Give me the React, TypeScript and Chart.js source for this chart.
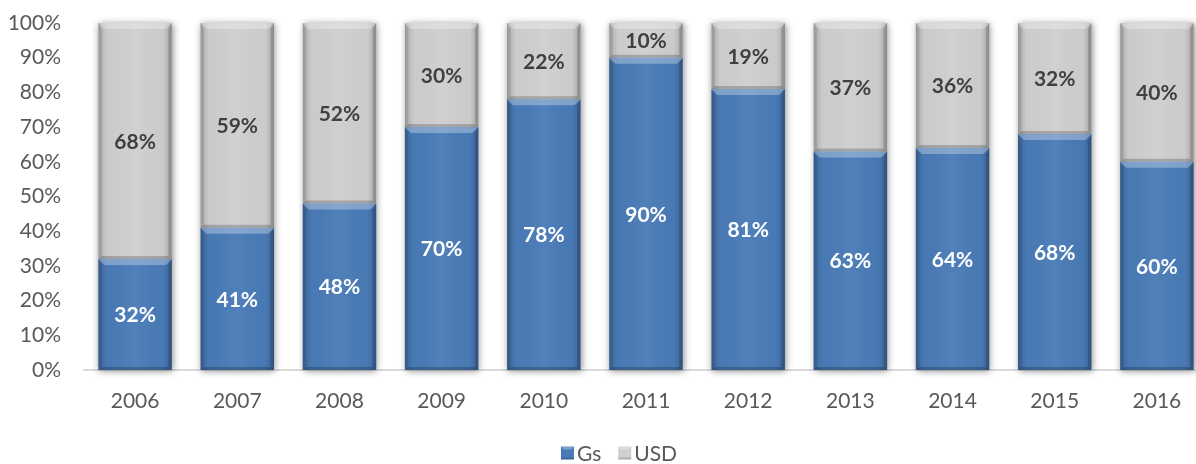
import React, { useEffect, useRef } from "react";
import { Chart, registerables } from "chart.js";

Chart.register(...registerables);

const years = ["2006", "2007", "2008", "2009", "2010", "2011", "2012", "2013", "2014", "2015", "2016"];
const gsValues = [32, 41, 48, 70, 78, 90, 81, 63, 64, 68, 60];
const usdValues = [68, 59, 52, 30, 22, 10, 19, 37, 36, 32, 40];
const seriesNames = ["Gs", "USD"];

const BLUE = "#4a7bb7";
const GRAY = "#cfcfcf";
const FONT = "Lato, 'Open Sans', sans-serif";

const shadowPlugin = {
  id: "stackShadow",
  beforeDatasetsDraw(chart: any) {
    const ctx = chart.ctx;
    const m0 = chart.getDatasetMeta(0);
    const m1 = chart.getDatasetMeta(1);
    ctx.save();
    ctx.shadowColor = "rgba(0,0,0,0.45)";
    ctx.shadowBlur = 7;
    ctx.shadowOffsetX = 1;
    ctx.shadowOffsetY = 1;
    ctx.fillStyle = "#ffffff";
    m0.data.forEach((el: any, i: number) => {
      const top = m1.data[i].y;
      const base = el.base;
      const w = el.width;
      ctx.fillRect(el.x - w / 2, top, w, base - top);
    });
    ctx.restore();
  },
};

const bevelPlugin = {
  id: "bevel",
  afterDatasetsDraw(chart: any) {
    const ctx = chart.ctx;
    [0, 1].forEach((di) => {
      const meta = chart.getDatasetMeta(di);
      meta.data.forEach((el: any) => {
        const l = el.x - el.width / 2;
        const r = el.x + el.width / 2;
        const t = Math.min(el.y, el.base);
        const b = Math.max(el.y, el.base);
        const bv = 6;
        ctx.save();
        const g = ctx.createLinearGradient(l, 0, r, 0);
        g.addColorStop(0, "rgba(0,0,0,0.18)");
        g.addColorStop(0.12, "rgba(0,0,0,0.02)");
        g.addColorStop(0.5, "rgba(255,255,255,0.04)");
        g.addColorStop(0.88, "rgba(0,0,0,0.02)");
        g.addColorStop(1, "rgba(0,0,0,0.2)");
        ctx.fillStyle = g;
        ctx.fillRect(l, t, r - l, b - t);
        ctx.beginPath();
        ctx.moveTo(l, t);
        ctx.lineTo(r, t);
        ctx.lineTo(r - bv, t + bv);
        ctx.lineTo(l + bv, t + bv);
        ctx.closePath();
        ctx.fillStyle = "rgba(255,255,255,0.3)";
        ctx.fill();
        ctx.beginPath();
        ctx.moveTo(l, t);
        ctx.lineTo(l + bv * 0.6, t + bv);
        ctx.lineTo(l + bv * 0.6, b - bv * 0.5);
        ctx.lineTo(l, b);
        ctx.closePath();
        ctx.fillStyle = "rgba(0,0,0,0.10)";
        ctx.fill();
        ctx.beginPath();
        ctx.moveTo(r, t);
        ctx.lineTo(r - bv * 0.6, t + bv);
        ctx.lineTo(r - bv * 0.6, b - bv * 0.5);
        ctx.lineTo(r, b);
        ctx.closePath();
        ctx.fillStyle = "rgba(0,0,0,0.16)";
        ctx.fill();
        ctx.beginPath();
        ctx.moveTo(l, b);
        ctx.lineTo(r, b);
        ctx.lineTo(r - bv * 0.6, b - bv * 0.5);
        ctx.lineTo(l + bv * 0.6, b - bv * 0.5);
        ctx.closePath();
        ctx.fillStyle = "rgba(0,0,0,0.2)";
        ctx.fill();
        ctx.restore();
      });
    });
    ctx.save();
    ctx.font = `bold 21px ${FONT}`;
    ctx.textAlign = "center";
    ctx.textBaseline = "middle";
    [0, 1].forEach((di) => {
      const meta = chart.getDatasetMeta(di);
      const vals = chart.data.datasets[di].data;
      meta.data.forEach((el: any, i: number) => {
        ctx.fillStyle = di === 0 ? "#ffffff" : "#404040";
        ctx.fillText(vals[i] + "%", el.x, (el.y + el.base) / 2 + 1);
      });
    });
    ctx.restore();
  },
  afterDraw(chart: any) {
    const ctx = chart.ctx;
    ctx.save();
    ctx.font = `21px ${FONT}`;
    ctx.textBaseline = "middle";
    const box = 13;
    const gapBoxText = 3;
    const gapItems = 17;
    const colors = [BLUE, GRAY];
    const widths = seriesNames.map((n) => box + gapBoxText + ctx.measureText(n).width);
    const total = widths[0] + widths[1] + gapItems;
    const cx = 619;
    const cy = 453;
    let x = cx - total / 2;
    seriesNames.forEach((n, i) => {
      ctx.fillStyle = colors[i];
      ctx.fillRect(x, cy - box / 2, box, box);
      ctx.beginPath();
      ctx.moveTo(x, cy - box / 2);
      ctx.lineTo(x + box, cy - box / 2);
      ctx.lineTo(x + box - 3, cy - box / 2 + 3);
      ctx.lineTo(x + 3, cy - box / 2 + 3);
      ctx.closePath();
      ctx.fillStyle = "rgba(255,255,255,0.3)";
      ctx.fill();
      ctx.fillStyle = "rgba(0,0,0,0.15)";
      ctx.fillRect(x, cy + box / 2 - 2, box, 2);
      ctx.fillStyle = "#595959";
      ctx.fillText(n, x + box + gapBoxText, cy + 1);
      x += widths[i] + gapItems;
    });
    ctx.restore();
  },
};

export default function App() {
  const ref = useRef<HTMLCanvasElement>(null);
  useEffect(() => {
    document.body.style.margin = "0";
    document.body.style.overflow = "hidden";
    const chart = new Chart(ref.current as HTMLCanvasElement, {
      type: "bar",
      data: {
        labels: years,
        datasets: [
          { label: seriesNames[0], data: gsValues, backgroundColor: BLUE, barPercentage: 0.72, categoryPercentage: 1 },
          { label: seriesNames[1], data: usdValues, backgroundColor: GRAY, barPercentage: 0.72, categoryPercentage: 1 },
        ],
      },
      options: {
        responsive: false,
        animation: false,
        layout: { padding: { top: 23, right: 4, bottom: 30, left: 0 } },
        plugins: { legend: { display: false }, tooltip: { enabled: false } },
        scales: {
          x: {
            stacked: true,
            grid: { display: false, drawTicks: false },
            border: { display: true, color: "#d9d9d9", width: 2 },
            ticks: { color: "#595959", font: { family: FONT, size: 21 }, padding: 19 },
            afterFit: (s: any) => { s.height = 64; },
          },
          y: {
            stacked: true,
            min: 0,
            max: 100,
            grid: { display: false, drawTicks: false },
            border: { display: false },
            ticks: {
              stepSize: 10,
              color: "#595959",
              font: { family: FONT, size: 21 },
              padding: 23,
              callback: (v: any) => v + "%",
            },
            afterFit: (s: any) => { s.width = 84; s.paddingTop = 12; s.paddingBottom = 12; },
          },
        },
      },
      plugins: [shadowPlugin, bevelPlugin],
    } as any);
    return () => chart.destroy();
  }, []);
  return (
    <div style={{ position: "fixed", left: 0, top: 0, width: 1196, height: 464, overflow: "hidden", background: "#fff" }}>
      <canvas ref={ref} width={1212} height={464} style={{ display: "block", width: 1212, height: 464 }} />
    </div>
  );
}
